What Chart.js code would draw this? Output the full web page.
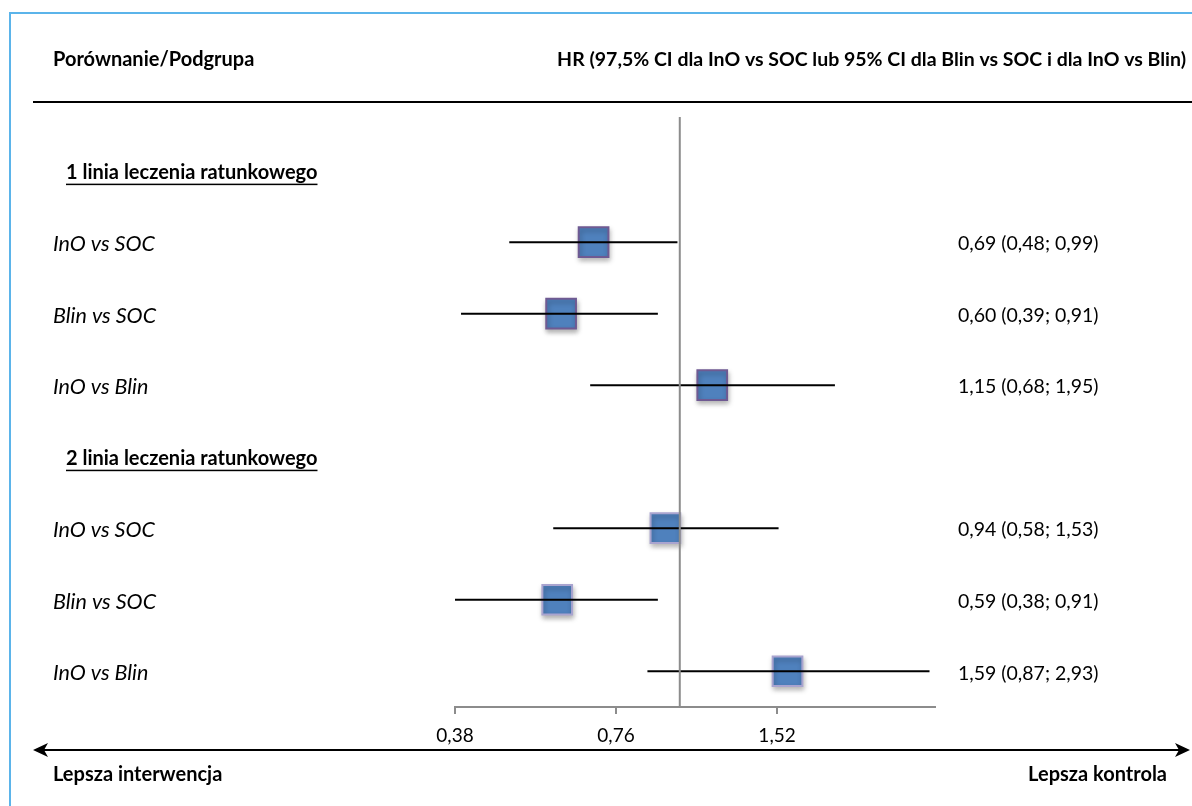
<!DOCTYPE html>
<html lang="pl">
<head>
<meta charset="utf-8">
<title>HR – porównanie podgrup</title>
<script src="https://cdn.jsdelivr.net/npm/chart.js@4/dist/chart.umd.min.js"></script>
<style>
  html, body { margin: 0; padding: 0; background: #fff; }
  #wrap { position: relative; width: 1192px; height: 806px; }
</style>
</head>
<body>
<div id="wrap"><canvas id="forestChart"></canvas></div>
<script>
const groupTitles = ['1 linia leczenia ratunkowego', '2 linia leczenia ratunkowego'];
const comparisons = ['InO vs SOC', 'Blin vs SOC', 'InO vs Blin'];
const hr     = [0.69, 0.60, 1.15, 0.94, 0.59, 1.59];
const ciLow  = [0.48, 0.39, 0.68, 0.58, 0.38, 0.87];
const ciHigh = [0.99, 0.91, 1.95, 1.53, 0.91, 2.93];
const xTicks = [0.38, 0.76, 1.52];

const FONT = 'Lato, "Open Sans", sans-serif';
const fmt = v => v.toFixed(2).replace('.', ',');

// one header row per group, then its comparisons
const rows = [];
groupTitles.forEach((title, g) => {
  rows.push({ label: title, header: true });
  comparisons.forEach((c, k) => rows.push({ label: c, header: false, idx: g * comparisons.length + k }));
});
const dataRows = rows.map((r, i) => ({ ...r, y: i })).filter(r => !r.header);

const yMin = -0.75, yMax = 7.5;

const datasets = [];

// vertical line at HR = 1
datasets.push({
  type: 'line',
  data: [{ x: 1, y: yMin }, { x: 1, y: yMax }],
  borderColor: '#8c8c8c',
  borderWidth: 2,
  pointRadius: 0
});

// confidence intervals
dataRows.forEach(r => {
  datasets.push({
    type: 'line',
    data: [{ x: ciLow[r.idx], y: r.y }, { x: ciHigh[r.idx], y: r.y }],
    borderColor: '#000',
    borderWidth: 2,
    pointRadius: 0
  });
});

// point estimates
datasets.push({
  type: 'scatter',
  data: dataRows.map(r => ({ x: hr[r.idx], y: r.y })),
  pointStyle: 'rect',
  pointRadius: 21,
  pointHoverRadius: 21,
  backgroundColor: '#4f81bd',
  borderColor: dataRows.map(r => r.idx < 3 ? '#6f5a92' : '#a9a4cf'),
  borderWidth: 2
});

const squareShadow = {
  id: 'squareShadow',
  beforeDatasetDraw(chart, args) {
    if (args.index !== chart.data.datasets.length - 1) return;
    const ctx = chart.ctx;
    ctx.save();
    ctx.shadowColor = 'rgba(0,0,0,0.3)';
    ctx.shadowBlur = 5;
    ctx.shadowOffsetX = 1;
    ctx.shadowOffsetY = 3;
  },
  afterDatasetDraw(chart, args) {
    if (args.index !== chart.data.datasets.length - 1) return;
    chart.ctx.restore();
  }
};

function arrowHead(ctx, x, y, dir) {
  ctx.beginPath();
  ctx.moveTo(x, y);
  ctx.lineTo(x - dir * 15, y - 7);
  ctx.lineTo(x - dir * 11, y);
  ctx.lineTo(x - dir * 15, y + 7);
  ctx.closePath();
  ctx.fill();
}

const decorations = {
  id: 'decorations',
  afterDraw(chart) {
    const ctx = chart.ctx;
    const yScale = chart.scales.y;
    ctx.save();

    // frame
    ctx.strokeStyle = '#5bb4ea';
    ctx.lineWidth = 2;
    ctx.beginPath();
    ctx.moveTo(10, 806);
    ctx.lineTo(10, 13);
    ctx.lineTo(1192, 13);
    ctx.stroke();

    // column headers
    ctx.fillStyle = '#000';
    ctx.textBaseline = 'middle';
    ctx.font = 'bold 20px ' + FONT;
    ctx.textAlign = 'left';
    ctx.fillText('Porównanie/Podgrupa', 53, 60);
    ctx.textAlign = 'right';
    ctx.font = 'bold 19.5px ' + FONT;
    ctx.fillText('HR (97,5% CI dla InO vs SOC lub 95% CI dla Blin vs SOC i dla InO vs Blin)', 1186, 60);

    ctx.strokeStyle = '#000';
    ctx.lineWidth = 2;
    ctx.beginPath();
    ctx.moveTo(33, 102);
    ctx.lineTo(1192, 102);
    ctx.stroke();

    // row labels and values
    rows.forEach((r, i) => {
      const y = yScale.getPixelForValue(i) + 2;
      ctx.textAlign = 'left';
      if (r.header) {
        ctx.font = 'bold 20px ' + FONT;
        ctx.fillText(r.label, 66, y);
        const w = ctx.measureText(r.label).width;
        ctx.fillRect(66, y + 11, w, 1.5);
      } else {
        ctx.font = 'italic 21.5px ' + FONT;
        ctx.fillText(r.label, 53, y);
        ctx.font = '19.5px ' + FONT;
        ctx.fillText(fmt(hr[r.idx]) + ' (' + fmt(ciLow[r.idx]) + '; ' + fmt(ciHigh[r.idx]) + ')', 958, y);
      }
    });

    // direction arrow
    ctx.beginPath();
    ctx.moveTo(40, 750);
    ctx.lineTo(1183, 750);
    ctx.stroke();
    arrowHead(ctx, 33, 750, -1);
    arrowHead(ctx, 1190, 750, 1);

    ctx.font = 'bold 20px ' + FONT;
    ctx.textAlign = 'left';
    ctx.fillText('Lepsza interwencja', 53, 775);
    ctx.textAlign = 'right';
    ctx.fillText('Lepsza kontrola', 1167, 775);

    ctx.restore();
  }
};

new Chart(document.getElementById('forestChart'), {
  type: 'scatter',
  data: { datasets },
  options: {
    responsive: true,
    maintainAspectRatio: false,
    animation: false,
    clip: false,
    layout: { padding: { left: 455, right: 257, top: 117, bottom: 0 } },
    plugins: { legend: { display: false }, tooltip: { enabled: false } },
    scales: {
      x: {
        type: 'logarithmic',
        min: 0.38,
        max: 3.0,
        afterBuildTicks(scale) {
          scale.ticks = xTicks.map(v => ({ value: v }));
        },
        afterFit(scale) {
          scale.height = 99;
        },
        ticks: {
          autoSkip: false,
          maxRotation: 0,
          padding: 10,
          color: '#000',
          font: { family: FONT, size: 19 },
          callback: v => fmt(v)
        },
        grid: {
          drawOnChartArea: false,
          drawTicks: true,
          tickLength: 7,
          color: '#8c8c8c',
          lineWidth: 2
        },
        border: { display: true, color: '#8c8c8c', width: 2 }
      },
      y: {
        type: 'linear',
        display: false,
        reverse: true,
        min: yMin,
        max: yMax
      }
    }
  },
  plugins: [squareShadow, decorations]
});
</script>
</body>
</html>
